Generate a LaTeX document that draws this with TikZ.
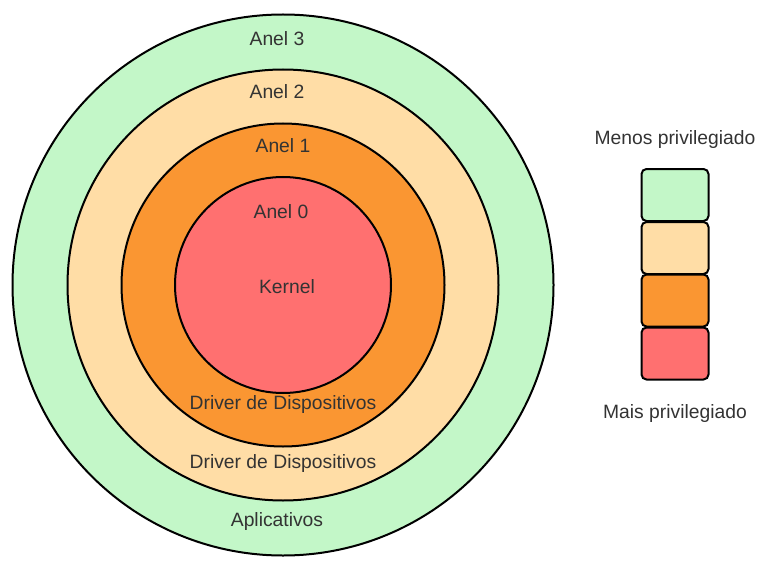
\documentclass[tikz,border=0pt]{standalone}
\usepackage{fontspec}
\setmainfont{Liberation Sans}
\definecolor{cgreen}{HTML}{C3F7C8}
\definecolor{cbeige}{HTML}{FFDDA6}
\definecolor{corange}{HTML}{FA9632}
\definecolor{cred}{HTML}{FF7070}
\definecolor{ctext}{HTML}{333333}
\begin{document}
\begin{tikzpicture}[x=1pt,y=-1pt,
  ring/.style={circle,draw=black,line width=2pt,inner sep=0pt},
  lbl/.style={text=ctext,font=\fontsize{19.3}{23}\selectfont,inner sep=0pt},
  lbox/.style={draw=black,line width=2pt,rounded corners=5pt,minimum width=67pt,minimum height=52pt,inner sep=0pt}]
\useasboundingbox (0,0) rectangle (771,567);
\node[ring,fill=cgreen,minimum size=541pt] (r3) at (283,285) {};
\node[ring,fill=cbeige,minimum size=431pt] (r2) at (283,285) {};
\node[ring,fill=corange,minimum size=323pt] (r1) at (283,285) {};
\node[ring,fill=cred,minimum size=216pt] (r0) at (283,285) {};
\node[lbl] (t3) at (277,39) {Anel 3};
\node[lbl] (t2) at (277,92) {Anel 2};
\node[lbl] (t1) at (283,146) {Anel 1};
\node[lbl] (t0) at (281,212) {Anel 0};
\node[lbl] (k) at (287,287) {Kernel};
\node[lbl] (d1) at (283,405) {Driver de Dispositivos};
\node[lbl] (d2) at (283,464) {Driver de Dispositivos};
\node[lbl] (ap) at (277,522) {Aplicativos};
\node[lbox,fill=cgreen] (b3) at (675,195) {};
\node[lbox,fill=cbeige] (b2) at (675,248) {};
\node[lbox,fill=corange] (b1) at (675,300.5) {};
\node[lbox,fill=cred] (b0) at (675,353.5) {};
\node[lbl] (menos) at (675,140) {Menos privilegiado};
\node[lbl] (mais) at (675,414) {Mais privilegiado};
\end{tikzpicture}
\end{document}
